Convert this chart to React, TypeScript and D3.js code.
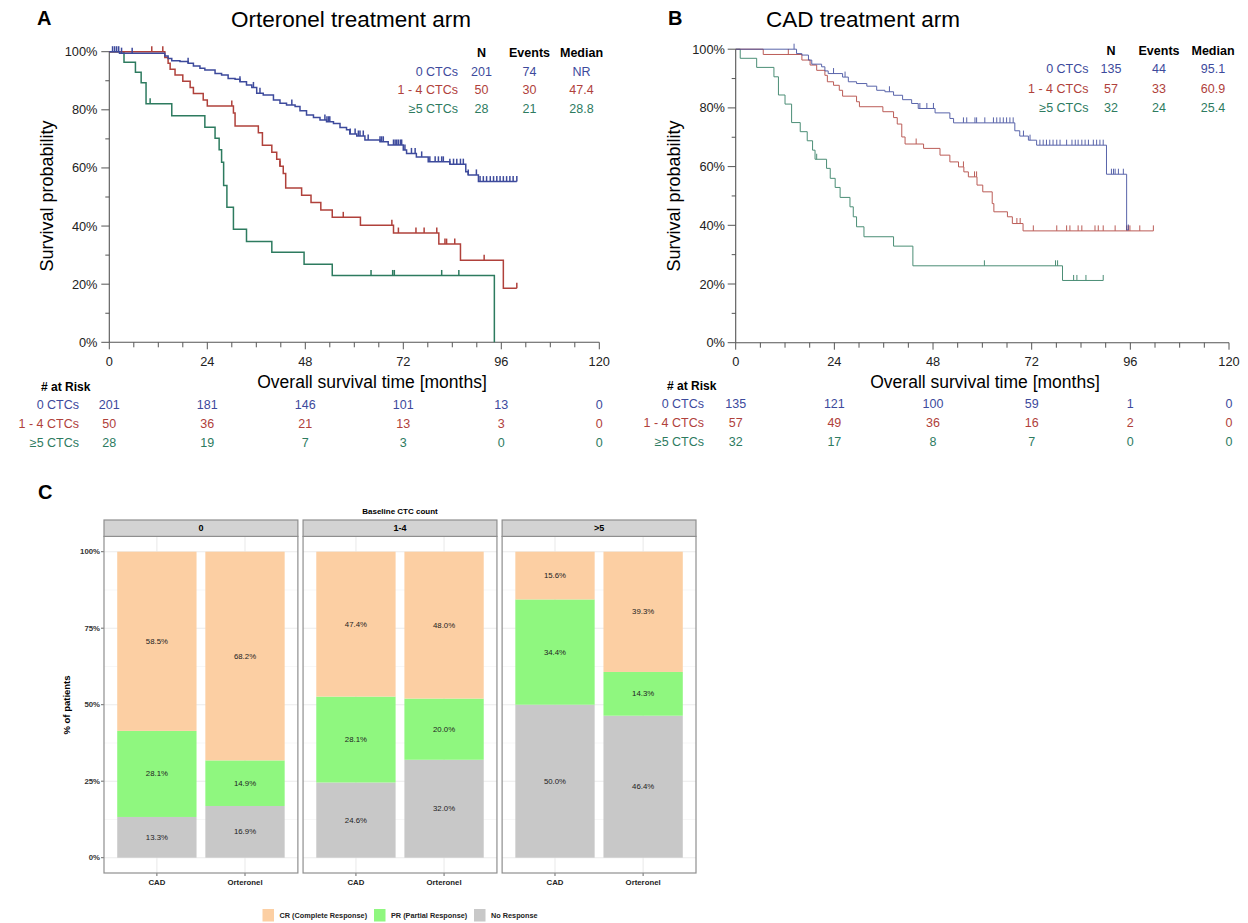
import React from 'react';
import * as d3 from 'd3';

type Step = [number, number];

// ---------- Kaplan-Meier data (months, survival %) ----------
const ortZeroSteps: Step[] = [
  [2.5, 99.5], [13.6, 98.5], [14.4, 97.7], [15.3, 96.9], [17.3, 96.6], [19.3, 96.0], [20.6, 95.1],
  [22.2, 94.3], [23.4, 93.7], [25.9, 92.5], [27.5, 92.0], [29.1, 90.8], [30.8, 90.5], [32.0, 89.7],
  [33.6, 88.5], [34.9, 87.7], [36.1, 85.7], [37.7, 85.1], [40.2, 83.4], [41.8, 82.3], [43.4, 81.7],
  [45.5, 81.1], [46.7, 79.7], [48.3, 78.2], [50.0, 77.4], [51.6, 76.5], [53.2, 75.9], [54.9, 75.3],
  [56.5, 73.9], [58.1, 73.1], [58.9, 71.7], [60.6, 71.0], [62.6, 69.6], [66.3, 69.0], [68.3, 67.9],
  [72.0, 66.2], [72.8, 65.0], [75.2, 63.8], [78.1, 62.1], [83.4, 61.3], [87.3, 58.7], [87.9, 57.6],
  [90.4, 55.3],
];
const ortZeroCensor = [
  0.8, 1.3, 1.8, 2.3, 3.0, 5.6, 19.3, 32.0, 35.3, 36.9, 44.7, 52.8, 53.3, 53.7, 54.0, 59.0, 60.2, 61.0,
  61.4, 62.2, 63.4, 66.3, 66.7, 67.1, 69.6, 70.0, 70.4, 70.8, 71.3, 71.6, 72.4, 74.0, 74.9, 76.5, 78.5,
  79.8, 80.6, 81.4, 81.8, 83.4, 84.3, 85.1, 86.0, 86.7, 87.9, 89.9, 90.8, 91.6, 92.4, 93.3, 94.1, 94.9,
  95.7, 96.5, 97.3, 98.1, 98.9, 99.8,
];
const ortOneSteps: Step[] = [
  [13.6, 98.0], [14.4, 96.0], [14.9, 94.0], [16.1, 92.0], [18.0, 89.8], [19.8, 87.7], [20.6, 85.6],
  [23.0, 83.4], [24.0, 81.3], [30.4, 78.9], [30.8, 74.4], [36.5, 72.1], [37.5, 67.8], [39.8, 65.4],
  [41.0, 63.0], [41.8, 60.6], [42.6, 58.1], [43.2, 53.1], [47.1, 50.6], [49.4, 48.1], [51.8, 45.5],
  [54.6, 43.0], [61.5, 40.3], [69.6, 37.6], [80.7, 33.8], [86.0, 28.2], [96.5, 18.6],
];
const ortOneCensor = [10.4, 13.1, 30.0, 41.8, 57.3, 69.2, 70.8, 75.1, 77.1, 80.2, 82.2, 82.6, 84.6, 91.8, 99.8];
const ortFiveSteps: Step[] = [
  [3.6, 96.4], [6.4, 92.9], [7.8, 89.3], [9.0, 82.1], [15.3, 78.0], [23.4, 74.0], [25.9, 70.2],
  [26.9, 66.3], [27.5, 62.0], [28.0, 54.0], [28.8, 46.5], [30.4, 38.9], [33.6, 34.7], [39.8, 31.0],
  [47.7, 26.9], [54.6, 23.0], [94.3, 0],
];
const ortFiveCensor = [10.0, 64.1, 69.4, 69.8, 81.4, 85.6];

const cadZeroSteps: Step[] = [
  [14.8, 98.5], [16.1, 98.0], [17.7, 96.3], [18.5, 94.9], [20.9, 94.0], [21.7, 92.6], [22.5, 91.7],
  [26.0, 90.5], [27.4, 88.9], [29.4, 88.3], [31.9, 87.4], [34.3, 86.0], [36.3, 85.5], [38.4, 84.3],
  [40.6, 82.8], [42.8, 81.5], [44.4, 79.8], [48.5, 78.3], [52.1, 76.4], [53.0, 74.9], [67.9, 72.2],
  [69.1, 70.4], [71.2, 69.0], [73.2, 67.3], [90.2, 57.4], [95.1, 38.4],
];
const cadZeroCensor = [
  14.2, 23.8, 26.6, 37.4, 44.8, 46.5, 48.1, 55.4, 56.2, 58.2, 58.6, 60.6, 62.7, 63.5, 64.3, 65.1, 65.9,
  66.7, 67.5, 70.0, 71.6, 74.0, 74.8, 75.6, 76.4, 77.2, 78.1, 78.9, 80.5, 81.8, 82.6, 83.3, 84.2, 85.0,
  85.8, 87.0, 87.8, 88.6, 89.4, 91.4, 91.9, 92.3, 93.1, 94.3, 95.5,
];
const cadOneSteps: Step[] = [
  [6.7, 98.2], [16.1, 96.3], [18.1, 94.6], [19.7, 92.8], [21.7, 91.1], [22.3, 88.9], [23.8, 87.7],
  [25.2, 86.0], [26.0, 84.0], [29.4, 82.1], [30.1, 80.4], [35.8, 78.7], [38.4, 76.7], [39.3, 74.5],
  [40.4, 70.1], [41.2, 67.7], [45.7, 66.2], [49.7, 63.9], [52.1, 61.6], [54.2, 59.9], [55.5, 58.2],
  [56.6, 56.5], [58.7, 53.7], [60.1, 51.4], [62.4, 47.4], [62.8, 44.6], [66.1, 42.9], [67.3, 40.6],
  [69.9, 38.1],
];
const cadOneCensor = [
  12.8, 43.9, 55.4, 58.1, 58.6, 68.4, 69.2, 72.4, 78.1, 80.5, 81.3, 83.3, 84.2, 87.4, 88.2, 89.4, 92.3,
  95.1, 95.5, 95.9, 98.3, 101.6,
];
const cadFiveSteps: Step[] = [
  [1.1, 96.9], [5.1, 93.8], [9.3, 90.6], [10.4, 84.4], [12.0, 81.3], [13.6, 75.0], [15.7, 71.9],
  [17.4, 68.8], [18.7, 65.6], [19.3, 62.5], [22.1, 59.4], [23.0, 56.0], [24.2, 52.9], [25.4, 49.5],
  [27.8, 46.3], [28.6, 42.9], [29.4, 39.5], [31.2, 36.1], [38.4, 32.9], [43.1, 26.2], [79.5, 21.2],
];
const cadFiveCensor = [19.7, 60.5, 77.8, 78.3, 82.2, 83.0, 85.2, 89.4];

const ortEnds = [99.8, 99.8, 94.3];
const cadEnds = [95.5, 101.6, 89.4];

// ---------- tables ----------
const groupLabels = ['0 CTCs', '1 - 4 CTCs', '\u22655 CTCs'];
const ortN = [201, 50, 28];
const ortEvents = [74, 30, 21];
const ortMedian = ['NR', '47.4', '28.8'];
const cadN = [135, 57, 32];
const cadEvents = [44, 33, 24];
const cadMedian = ['95.1', '60.9', '25.4'];
const ortRiskZero = [201, 181, 146, 101, 13, 0];
const ortRiskOne = [50, 36, 21, 13, 3, 0];
const ortRiskFive = [28, 19, 7, 3, 0, 0];
const cadRiskZero = [135, 121, 100, 59, 1, 0];
const cadRiskOne = [57, 49, 36, 16, 2, 0];
const cadRiskFive = [32, 17, 8, 7, 0, 0];

const monthMajor = [0, 24, 48, 72, 96, 120];
const monthMinor = [6, 12, 18, 30, 36, 42, 54, 60, 66, 78, 84, 90, 102, 108, 114];
const survMajor = [0, 20, 40, 60, 80, 100];
const survMinor = [10, 30, 50, 70, 90];

// ---------- panel C data ----------
const ctcGroups = ['0', '1-4', '>5'];
const arms = ['CAD', 'Orteronel'];
const noResponse = [[13.3, 16.9], [24.6, 32.0], [50.0, 46.4]];
const partialResponse = [[28.1, 14.9], [28.1, 20.0], [34.4, 14.3]];
const completeResponse = [[58.5, 68.2], [47.4, 48.0], [15.6, 39.3]];
const responseNames = ['CR (Complete Response)', 'PR (Partial Response)', 'No Response'];
const pctTicks = [0, 25, 50, 75, 100];
const pctMinor = [12.5, 37.5, 62.5, 87.5];

const FONT = "'Liberation Sans', Arial, Helvetica, sans-serif";
const COLORS = ['#3D4A9C', '#B0413B', '#2D7B5F'];
const RESP_COLORS = ['#FCCFA3', '#8FF77F', '#C8C8C8'];

function survAt(steps: Step[], t: number) {
  let s = 100;
  for (const [tt, ss] of steps) if (tt <= t) s = ss;
  return s;
}

interface KMProps {
  x0: number; x1: number; y0: number; y1: number;
  steps: Step[][]; censors: number[][]; ends: number[];
  n: number[]; events: number[]; medians: string[];
  risk: number[][];
  letter: string; letterX: number; title: string; titleX: number;
  yLabelX: number; xLabelX: number; tickLabelEnd: number;
  tbl: { labelEnd: number; nX: number; evX: number; medX: number; ys: number[] };
  riskTitleX: number; riskLabelEnd: number; riskYs: number[];
  strokeW: number; lineOpacity: number;
}

function KMPanel(p: KMProps) {
  const x = d3.scaleLinear().domain([0, 120]).range([p.x0, p.x1]);
  const y = d3.scaleLinear().domain([0, 100]).range([p.y0, p.y1]);
  const line = d3.line<Step>().x(d => x(d[0])).y(d => y(d[1])).curve(d3.curveStepAfter);
  const axisColor = '#555';
  return (
    <g fontFamily={FONT}>
      <text x={p.letterX} y={25} fontSize={20} fontWeight="bold">{p.letter}</text>
      <text x={p.titleX} y={26.5} fontSize={22.5} textAnchor="middle">{p.title}</text>
      <text transform={`translate(${p.yLabelX},196) rotate(-90)`} fontSize={18} textAnchor="middle" dominantBaseline="central">Survival probability</text>
      {/* axes */}
      <line x1={p.x0} x2={p.x0} y1={y(0)} y2={y(100)} stroke={axisColor} strokeWidth={1.1} />
      <line x1={p.x0} x2={x(120)} y1={y(0)} y2={y(0)} stroke={axisColor} strokeWidth={1.1} />
      {survMajor.map(v => (
        <g key={'ym' + v}>
          <line x1={p.x0 - 8} x2={p.x0} y1={y(v)} y2={y(v)} stroke={axisColor} />
          <text x={p.tickLabelEnd} y={y(v)} fontSize={12.8} textAnchor="end" dominantBaseline="central" fill="#222">{v}%</text>
        </g>
      ))}
      {survMinor.map(v => (
        <line key={'yn' + v} x1={p.x0 - 4} x2={p.x0} y1={y(v)} y2={y(v)} stroke={axisColor} />
      ))}
      {monthMajor.map(v => (
        <g key={'xm' + v}>
          <line x1={x(v)} x2={x(v)} y1={y(0)} y2={y(0) + 7} stroke={axisColor} />
          <text x={x(v)} y={366} fontSize={12.8} textAnchor="middle" fill="#222">{v}</text>
        </g>
      ))}
      {monthMinor.map(v => (
        <line key={'xn' + v} x1={x(v)} x2={x(v)} y1={y(0)} y2={y(0) + 5} stroke={axisColor} />
      ))}
      <text x={p.xLabelX} y={388} fontSize={17.5} textAnchor="middle">Overall survival time [months]</text>
      {/* curves, drawn green, red, blue so blue is on top */}
      {[2, 1, 0].map(i => {
        const st = p.steps[i];
        const last = st[st.length - 1][1];
        const pts: Step[] = [[0, 100], ...st, [p.ends[i], last]];
        return (
          <g key={'c' + i} stroke={COLORS[i]} strokeWidth={p.strokeW} fill="none" opacity={p.lineOpacity}>
            <path d={line(pts) || ''} />
            {p.censors[i].map((c, j) => (
              <line key={j} x1={x(c)} x2={x(c)} y1={y(survAt(st, c))} y2={y(survAt(st, c)) - 5.5} />
            ))}
          </g>
        );
      })}
      {/* summary table */}
      <g fontSize={12.5}>
        <text x={p.tbl.nX} y={p.tbl.ys[0]} textAnchor="middle" fontWeight="bold">N</text>
        <text x={p.tbl.evX} y={p.tbl.ys[0]} textAnchor="middle" fontWeight="bold">Events</text>
        <text x={p.tbl.medX} y={p.tbl.ys[0]} textAnchor="middle" fontWeight="bold">Median</text>
        {groupLabels.map((g, i) => (
          <g key={g} fill={COLORS[i]}>
            <text x={p.tbl.labelEnd} y={p.tbl.ys[i + 1]} textAnchor="end">{g}</text>
            <text x={p.tbl.nX} y={p.tbl.ys[i + 1]} textAnchor="middle">{p.n[i]}</text>
            <text x={p.tbl.evX} y={p.tbl.ys[i + 1]} textAnchor="middle">{p.events[i]}</text>
            <text x={p.tbl.medX} y={p.tbl.ys[i + 1]} textAnchor="middle">{p.medians[i]}</text>
          </g>
        ))}
      </g>
      {/* risk table */}
      <g fontSize={12.5}>
        <text x={p.riskTitleX} y={p.riskYs[0]} fontWeight="bold" fontSize={12}># at Risk</text>
        {groupLabels.map((g, i) => (
          <g key={g} fill={COLORS[i]}>
            <text x={p.riskLabelEnd} y={p.riskYs[i + 1]} textAnchor="end">{g}</text>
            {p.risk[i].map((v, j) => (
              <text key={j} x={x(monthMajor[j])} y={p.riskYs[i + 1]} textAnchor="middle">{v}</text>
            ))}
          </g>
        ))}
      </g>
    </g>
  );
}

function ResponsePanel() {
  const facet = d3.scaleBand<string>().domain(ctcGroups).range([104, 696]).paddingInner(0.026);
  const w = facet.bandwidth();
  const band = d3.scaleBand<string>().domain(arms).range([0, w]).paddingInner(0.1).paddingOuter(0.15);
  const y = d3.scaleLinear().domain([-5, 105]).range([873, 536.4]);
  const border = '#8f8f8f';
  const stripTop = 520;
  return (
    <g fontFamily={FONT}>
      <text x={38} y={499} fontSize={20} fontWeight="bold">C</text>
      <text x={400} y={513.5} fontSize={8} fontWeight="bold" textAnchor="middle">Baseline CTC count</text>
      <text transform="translate(66,705) rotate(-90)" fontSize={9.5} fontWeight="bold" textAnchor="middle" dominantBaseline="central">% of patients</text>
      {pctTicks.map(v => (
        <g key={v}>
          <line x1={101} x2={104} y1={y(v)} y2={y(v)} stroke="#444" strokeWidth={0.8} />
          <text x={100} y={y(v)} fontSize={7.8} fontWeight="bold" textAnchor="end" dominantBaseline="central" fill="#333">{v}%</text>
        </g>
      ))}
      {ctcGroups.map((g, gi) => {
        const px = facet(g) as number;
        return (
          <g key={g}>
            <rect x={px} y={y(105)} width={w} height={y(-5) - y(105)} fill="#fff" />
            {pctMinor.map(v => (
              <line key={'mn' + v} x1={px} x2={px + w} y1={y(v)} y2={y(v)} stroke="#F2F2F2" strokeWidth={0.6} />
            ))}
            {pctTicks.map(v => (
              <line key={'mj' + v} x1={px} x2={px + w} y1={y(v)} y2={y(v)} stroke="#EBEBEB" strokeWidth={1.1} />
            ))}
            {arms.map(a => {
              const cx = px + (band(a) as number) + band.bandwidth() / 2;
              return <line key={'v' + a} x1={cx} x2={cx} y1={y(-5)} y2={y(105)} stroke="#EBEBEB" strokeWidth={1.1} />;
            })}
            {arms.map((a, ai) => {
              const bx = px + (band(a) as number);
              const bw = band.bandwidth();
              const segs = [noResponse[gi][ai], partialResponse[gi][ai], completeResponse[gi][ai]];
              const cols = [RESP_COLORS[2], RESP_COLORS[1], RESP_COLORS[0]];
              let base = 0;
              const total = segs[0] + segs[1] + segs[2];
              return (
                <g key={a}>
                  {segs.map((v, si) => {
                    const lo = (base / total) * 100;
                    base += v;
                    const hi = (base / total) * 100;
                    return (
                      <g key={si}>
                        <rect x={bx} y={y(hi)} width={bw} height={y(lo) - y(hi)} fill={cols[si]} />
                        <text x={bx + bw / 2} y={y((lo + hi) / 2)} fontSize={7.8} textAnchor="middle" dominantBaseline="central" fill="#222">{v.toFixed(1)}%</text>
                      </g>
                    );
                  })}
                  <line x1={bx + bw / 2} x2={bx + bw / 2} y1={y(-5)} y2={y(-5) + 3} stroke="#444" strokeWidth={0.8} />
                  <text x={bx + bw / 2} y={884.5} fontSize={7.8} fontWeight="bold" textAnchor="middle" fill="#222">{a}</text>
                </g>
              );
            })}
            <rect x={px} y={y(105)} width={w} height={y(-5) - y(105)} fill="none" stroke={border} strokeWidth={1.2} />
            <rect x={px} y={stripTop} width={w} height={y(105) - stripTop} fill="#D3D3D3" stroke={border} strokeWidth={1.2} />
            <text x={px + w / 2} y={(stripTop + y(105)) / 2} fontSize={9} fontWeight="bold" textAnchor="middle" dominantBaseline="central">{g}</text>
          </g>
        );
      })}
      {/* legend */}
      {responseNames.map((nm, i) => {
        const lx = [262.5, 374, 474][i];
        return (
          <g key={nm}>
            <rect x={lx} y={909} width={11.5} height={12.5} fill={RESP_COLORS[i]} />
            <text x={lx + 17} y={915.5} fontSize={7.3} fontWeight="bold" dominantBaseline="central" fill="#222">{nm}</text>
          </g>
        );
      })}
    </g>
  );
}

export default function App() {
  return (
    <svg width={1248} height={923} style={{ position: 'absolute', left: 0, top: 0, background: '#fff' }}>
      <rect width={1248} height={923} fill="#fff" />
      <KMPanel
        x0={109.3} x1={599.3} y0={342.3} y1={51.7}
        steps={[ortZeroSteps, ortOneSteps, ortFiveSteps]}
        censors={[ortZeroCensor, ortOneCensor, ortFiveCensor]}
        ends={ortEnds}
        n={ortN} events={ortEvents} medians={ortMedian}
        risk={[ortRiskZero, ortRiskOne, ortRiskFive]}
        letter="A" letterX={37} title="Orteronel treatment arm" titleX={351}
        yLabelX={47} xLabelX={372} tickLabelEnd={97.5}
        tbl={{ labelEnd: 458, nX: 481.5, evX: 529.5, medX: 581.5, ys: [56.5, 75.5, 94, 112.5] }}
        riskTitleX={41} riskLabelEnd={79} riskYs={[390.5, 408.5, 427.5, 446.5]}
        strokeW={1.5} lineOpacity={1}
      />
      <KMPanel
        x0={735.7} x1={1229} y0={342.7} y1={49.2}
        steps={[cadZeroSteps, cadOneSteps, cadFiveSteps]}
        censors={[cadZeroCensor, cadOneCensor, cadFiveCensor]}
        ends={cadEnds}
        n={cadN} events={cadEvents} medians={cadMedian}
        risk={[cadRiskZero, cadRiskOne, cadRiskFive]}
        letter="B" letterX={668} title="CAD treatment arm" titleX={863}
        yLabelX={674} xLabelX={985} tickLabelEnd={725}
        tbl={{ labelEnd: 1088.5, nX: 1111, evX: 1159, medX: 1213, ys: [54.5, 73, 92.5, 111.5] }}
        riskTitleX={667} riskLabelEnd={704} riskYs={[389.5, 407.5, 426.5, 445.5]}
        strokeW={1} lineOpacity={0.85}
      />
      <ResponsePanel />
    </svg>
  );
}
